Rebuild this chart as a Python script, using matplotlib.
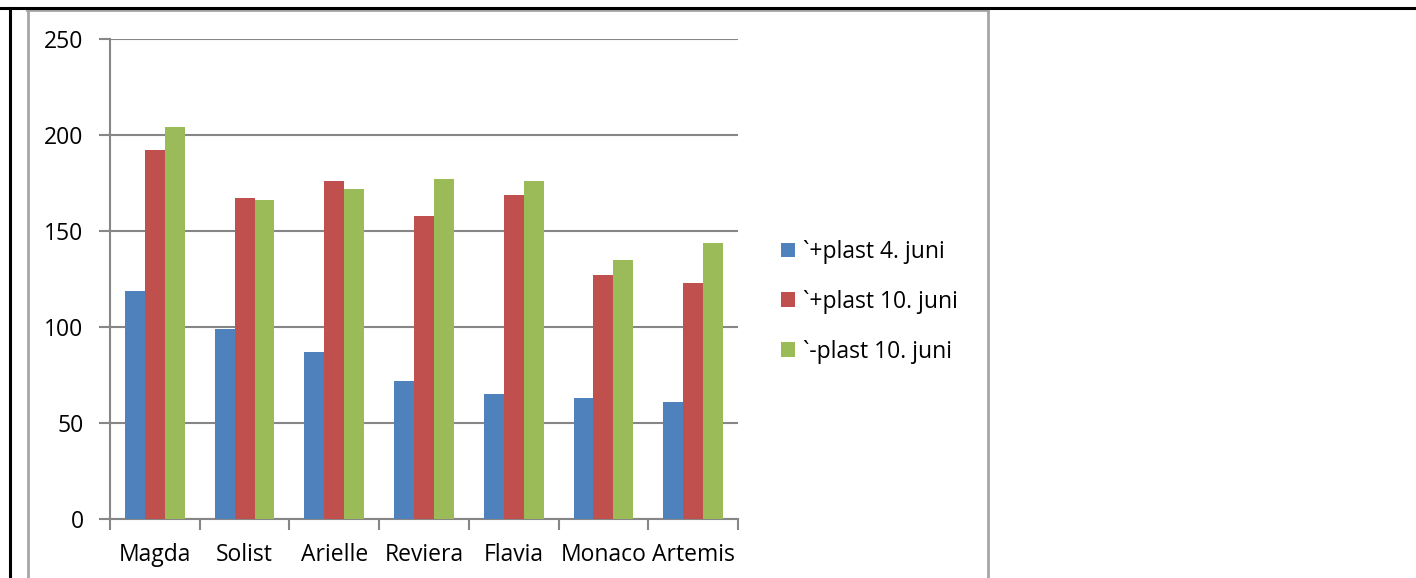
import matplotlib
matplotlib.use("Agg")
import matplotlib.pyplot as plt
from matplotlib.lines import Line2D
from matplotlib.patches import Patch
import numpy as np

categories = ["Magda", "Solist", "Arielle", "Reviera", "Flavia", "Monaco", "Artemis"]
series_names = ["`+plast 4. juni", "`+plast 10. juni", "`-plast 10. juni"]
plast_4_juni = [119, 99, 87, 72, 65, 63, 61]
plast_10_juni = [192, 167, 176, 158, 169, 127, 123]
uten_plast_10_juni = [204, 166, 172, 177, 176, 135, 144]
y_ticks = [0, 50, 100, 150, 200, 250]

colors = ["#4F81BD", "#C0504D", "#9BBB59"]

plt.rcParams['font.family'] = ['Open Sans', 'DejaVu Sans']

W, H = 1416, 578
fig = plt.figure(figsize=(W / 100, H / 100), dpi=100)

ax = fig.add_axes([110 / W, (H - 519) / H, (738 - 110) / W, 480 / H])

x = np.arange(len(categories))
bw = 0.222
for i, (vals, c, name) in enumerate(zip([plast_4_juni, plast_10_juni, uten_plast_10_juni], colors, series_names)):
    ax.bar(x + (i - 1) * bw, vals, width=bw, color=c, label=name, zorder=3)

ax.set_xlim(-0.5, len(categories) - 0.5)
ax.set_ylim(0, 250)
ax.set_yticks(y_ticks)
ax.set_yticklabels([str(v) for v in y_ticks], fontsize=16.5)
ax.yaxis.grid(True, color="#868686", linewidth=1.5, zorder=0)
ax.set_axisbelow(True)

ax.set_xticks(x)
ax.set_xticklabels(categories, fontsize=16.5)
ax.set_xticks(np.arange(len(categories) + 1) - 0.5, minor=True)
ax.tick_params(axis="x", which="major", length=0, pad=17)
ax.tick_params(axis="x", which="minor", length=8, width=1.5, color="#868686")
ax.tick_params(axis="y", length=8, width=1.5, color="#868686", pad=11)

for s in ["top", "right"]:
    ax.spines[s].set_visible(False)
for s in ["left", "bottom"]:
    ax.spines[s].set_color("#868686")
    ax.spines[s].set_linewidth(1.5)

handles = [Patch(facecolor=c, edgecolor="none") for c in colors]
fig.legend(handles, series_names, loc="upper left",
           bbox_to_anchor=(772 / W, 1 - 231 / H), frameon=False,
           fontsize=16.5, handlelength=0.6, handleheight=0.6,
           handletextpad=0.35, labelspacing=1.12, borderaxespad=0)

# table / chart frame decorations (figure pixel coords)
def px_line(x0, y0, x1, y1, color, lw):
    fig.add_artist(Line2D([x0 / W, x1 / W], [1 - y0 / H, 1 - y1 / H],
                          color=color, linewidth=lw, transform=fig.transFigure))

px_line(27, 9.5, 988, 9.5, "#a6a6a6", 2)
px_line(27.5, 9, 27.5, H, "#a6a6a6", 2)
px_line(988, 9, 988, H, "#a6a6a6", 2)
px_line(0, 8, W, 8, "black", 2.2)
px_line(10, 8, 10, H, "black", 2.2)

fig.savefig("out.png", dpi=100)
